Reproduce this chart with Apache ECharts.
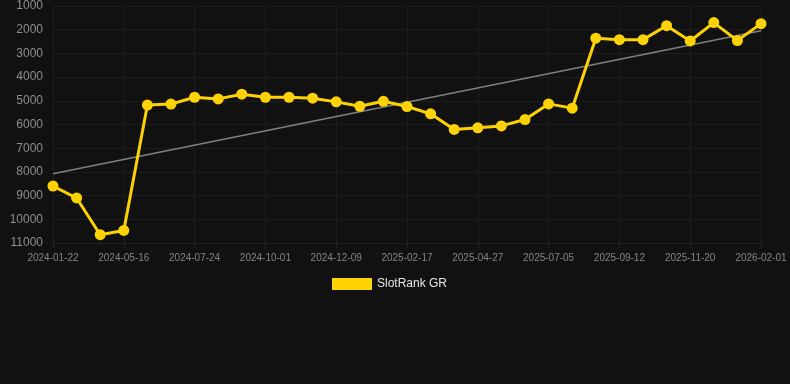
<!DOCTYPE html>
<html><head><meta charset="utf-8">
<script src="https://cdn.jsdelivr.net/npm/echarts@6/dist/echarts.min.js"></script>
<style>html,body{margin:0;padding:0;background:#111111;}#c{width:790px;height:384px;}</style>
</head><body><div id="c"></div>
<script>
const categories = ['2024-01-22','2024-02-29','2024-04-08','2024-05-16','2024-06-08','2024-07-01','2024-07-24','2024-08-16','2024-09-08','2024-10-01','2024-10-24','2024-11-16','2024-12-09','2025-01-01','2025-01-24','2025-02-17','2025-03-13','2025-04-04','2025-04-27','2025-05-20','2025-06-12','2025-07-05','2025-07-28','2025-08-20','2025-09-12','2025-10-05','2025-10-28','2025-11-20','2025-12-14','2026-01-07','2026-02-01'];
const rankValues = [8600,9100,10650,10470,5180,5140,4850,4920,4720,4850,4850,4890,5045,5230,5020,5240,5550,6210,6140,6060,5790,5130,5310,2360,2420,2420,1830,2475,1700,2460,1745];
const trendEnds = [8080, 2040];
const yTicks = {min:1000, max:11000, interval:1000};
const seriesName = 'SlotRank GR';

const trendData = categories.map((c,i)=> i===0 ? trendEnds[0] : (i===categories.length-1 ? trendEnds[1] : null));

const chart = echarts.init(document.getElementById('c'), null, {renderer:'canvas'});
chart.setOption({
  backgroundColor:'#111111',
  animation:false,
  grid:{left:53,right:29,top:6,bottom:141,containLabel:false},
  legend:{data:[{name:seriesName}],top:273,left:327,itemWidth:40,itemHeight:12,icon:'rect',itemGap:10,
    textStyle:{color:'#e6e6e6',fontSize:12,fontFamily:'Arial, Liberation Sans, sans-serif'}},
  xAxis:{type:'category',data:categories,boundaryGap:false,
    axisLine:{show:true,lineStyle:{color:'#1f1f1f'}},
    axisTick:{show:true,interval:2,length:5,lineStyle:{color:'#262626'}},
    splitLine:{show:true,interval:2,lineStyle:{color:'#1d1d1d'}},
    axisLabel:{interval:2,color:'#858585',fontSize:10,margin:10,fontFamily:'Arial, Liberation Sans, sans-serif'}},
  yAxis:{type:'value',inverse:true,min:yTicks.min,max:yTicks.max,interval:yTicks.interval,
    axisLine:{show:false},axisTick:{show:false},
    splitLine:{lineStyle:{color:'#1d1d1d'}},
    axisLabel:{color:'#8f8f8f',fontSize:12,margin:10,formatter:v=>String(v),fontFamily:'Arial, Liberation Sans, sans-serif'}},
  series:[
    {name:'trend',type:'line',data:trendData,connectNulls:true,symbol:'none',
      lineStyle:{color:'#808080',width:1.5},z:1,silent:true},
    {name:seriesName,type:'line',data:rankValues,symbol:'circle',symbolSize:11,
      itemStyle:{color:'#FFD200'},lineStyle:{color:'#FFD200',width:3},z:2}
  ]
});
</script></body></html>
